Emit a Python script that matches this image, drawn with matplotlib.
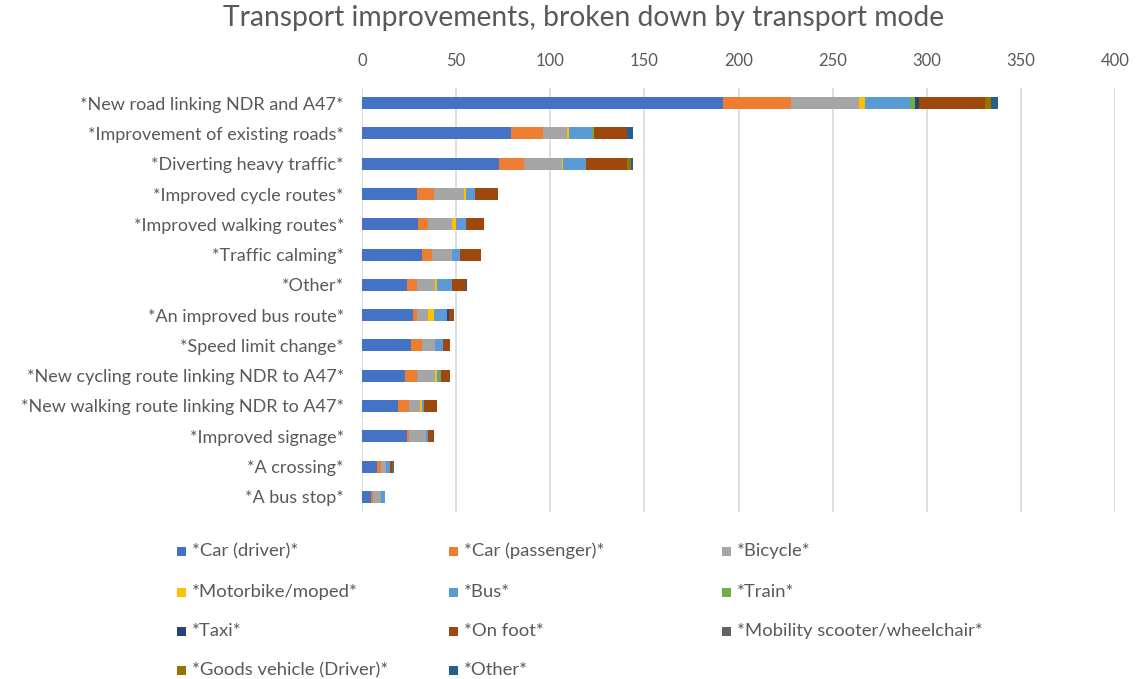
import numpy as np
import matplotlib.pyplot as plt
from matplotlib.patches import Rectangle

plt.rcParams['font.family'] = ['Lato', 'DejaVu Sans']

categories = ["*New road linking NDR and A47*", "*Improvement of existing roads*",
              "*Diverting heavy traffic*", "*Improved cycle routes*",
              "*Improved walking routes*", "*Traffic calming*", "*Other*",
              "*An improved bus route*", "*Speed limit change*",
              "*New cycling route linking NDR to A47*",
              "*New walking route linking NDR to A47*", "*Improved signage*",
              "*A crossing*", "*A bus stop*"]

car_driver = [192, 79, 73, 29, 30, 32, 24, 27, 26, 23, 19, 24, 8, 5]
car_passenger = [36, 17, 13, 9, 5, 5, 5, 2, 6, 6, 6, 1, 2, 1]
bicycle = [36, 13, 20, 16, 13, 11, 10, 6, 7, 10, 6, 9, 3, 4]
motorbike = [3, 1, 1, 1, 2, 0, 1, 3, 0, 1, 1, 0, 0, 0]
bus = [24, 12, 12, 5, 5, 4, 8, 7, 4, 1, 1, 1, 2, 2]
train = [3, 1, 0, 0, 0, 0, 0, 0, 0, 1, 0, 0, 0, 0]
taxi = [2, 0, 0, 0, 0, 0, 0, 1, 0, 0, 0, 0, 0, 0]
on_foot = [35, 18, 22, 12, 10, 11, 7, 3, 4, 5, 7, 3, 1, 0]
mobility = [0, 0, 0, 0, 0, 0, 0, 0, 0, 0, 0, 0, 1, 0]
goods = [3, 0, 2, 0, 0, 0, 0, 0, 0, 0, 0, 0, 0, 0]
other = [4, 3, 1, 0, 0, 0, 1, 0, 0, 0, 0, 0, 0, 0]

modes = ["*Car (driver)*", "*Car (passenger)*", "*Bicycle*", "*Motorbike/moped*",
         "*Bus*", "*Train*", "*Taxi*", "*On foot*",
         "*Mobility scooter/wheelchair*", "*Goods vehicle (Driver)*", "*Other*"]
series = [car_driver, car_passenger, bicycle, motorbike, bus, train, taxi,
          on_foot, mobility, goods, other]
colors = ["#4472C4", "#ED7D31", "#A5A5A5", "#FFC000", "#5B9BD5", "#70AD47",
          "#264478", "#9E480E", "#636363", "#997300", "#255E91"]

text_col = "#595959"

fig = plt.figure(figsize=(11.47, 6.79), dpi=100)
ax = fig.add_axes([362 / 1147, 1 - 512 / 679, (1115 - 362) / 1147, (512 - 88) / 679])

y = np.arange(len(categories))
left = np.zeros(len(categories))
for vals, col, lab in zip(series, colors, modes):
    ax.barh(y, vals, left=left, height=0.4, color=col, linewidth=0, label=lab, zorder=3)
    left += np.array(vals)

ax.set_xlim(0, 400)
ax.set_ylim(len(categories) - 0.5, -0.5)
ax.set_yticks(y)
ax.set_yticklabels(categories)
ax.set_xticks(np.arange(0, 401, 50))
ax.xaxis.tick_top()
ax.tick_params(axis='x', length=0, pad=14, labelsize=12, labelcolor=text_col)
ax.tick_params(axis='y', length=0, pad=13, labelsize=13, labelcolor=text_col)
ax.grid(axis='x', color="#d9d9d9", linewidth=1.2, zorder=0)
for s in ax.spines.values():
    s.set_visible(False)

fig.text(0.509, 1 - 18 / 679, "Transport improvements, broken down by transport mode",
         ha='center', va='center', fontsize=20.3, color=text_col)

# legend laid out row by row, three equal-width columns
col_x = [177, 449, 722]
row_y = [551, 592, 631, 670]
for i, (lab, col) in enumerate(zip(modes, colors)):
    r, c = divmod(i, 3)
    x0 = col_x[c] / 1147
    yc = 1 - row_y[r] / 679
    fig.add_artist(Rectangle((x0, yc - 4.5 / 679), 9 / 1147, 9 / 679,
                             transform=fig.transFigure, color=col, linewidth=0))
    fig.text(x0 + 15 / 1147, yc, lab, ha='left', va='center', fontsize=13.3, color=text_col)

fig.savefig("out.png", dpi=100)
